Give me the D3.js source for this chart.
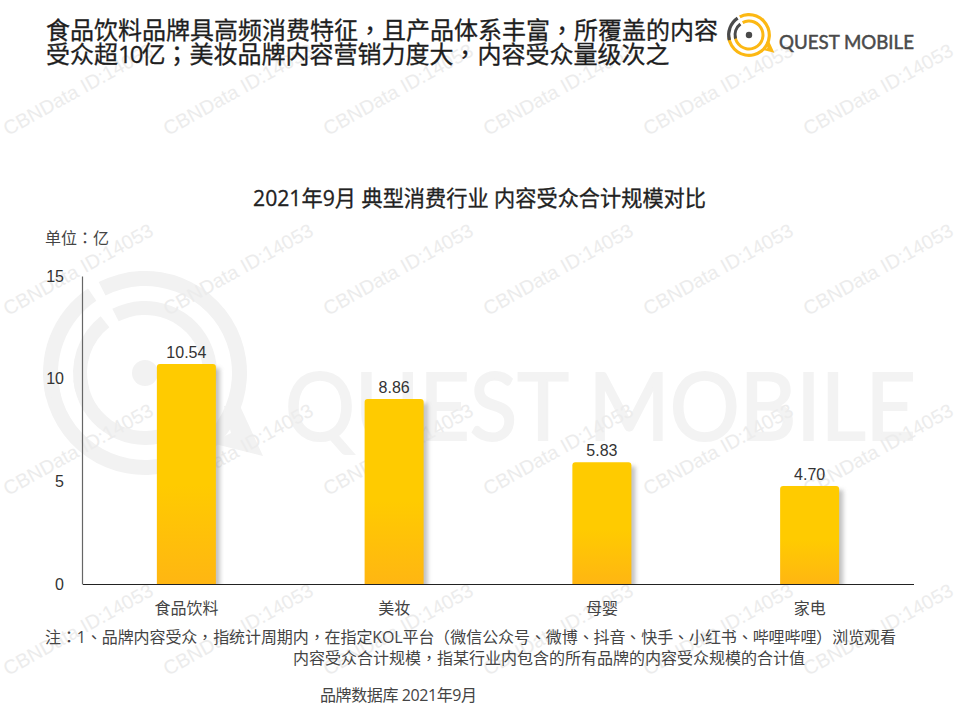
<!DOCTYPE html>
<html><head><meta charset="utf-8">
<script src="https://cdn.jsdelivr.net/npm/d3@7"></script>
<style>
@font-face{font-family:'CenterPunct';src:local('Noto Sans CJK TC'),local('Noto Sans CJK TC Regular'),local('NotoSansCJKtc-Regular');unicode-range:U+FF0C,U+FF1A,U+FF1B,U+FF08,U+FF09,U+3001}
html,body{margin:0;padding:0;background:#fff;overflow:hidden}svg{display:block}</style>
</head><body><svg id="c" width="959" height="719"></svg>
<script>
const categories = ["食品饮料","美妆","母婴","家电"];
const audience = [10.54,8.86,5.83,4.70];
const valueLabels = ["10.54","8.86","5.83","4.70"];
const yTicks = [0,5,10,15];
const headline = ["食品饮料品牌具高频消费特征，且产品体系丰富，所覆盖的内容","受众超10亿；美妆品牌内容营销力度大，内容受众量级次之"];
const chartTitle = "2021年9月 典型消费行业 内容受众合计规模对比";
const unitLabel = "单位：亿";
const notes = ["注：1、品牌内容受众，指统计周期内，在指定KOL平台（微信公众号、微博、抖音、快手、小红书、哔哩哔哩）浏览观看","内容受众合计规模，指某行业内包含的所有品牌的内容受众规模的合计值","品牌数据库 2021年9月"];
const watermarkText = "CBNData ID:14053";
const brandText = "QUEST MOBILE";

const CJK = "'CenterPunct','Open Sans','Noto Sans CJK SC','Noto Sans',sans-serif";
const LAT = "'Liberation Sans',Arial,sans-serif";
const svg = d3.select("#c");
const defs = svg.append("defs");
const g = defs.append("linearGradient").attr("id","bar").attr("x1",0).attr("x2",0).attr("y1",0).attr("y2",1);
g.append("stop").attr("offset","0.55").attr("stop-color","#ffcb00");
g.append("stop").attr("offset","1").attr("stop-color","#ffb612");
const f = defs.append("filter").attr("id","shadow").attr("x","-30%").attr("y","-10%").attr("width","170%").attr("height","125%");
f.append("feGaussianBlur").attr("stdDeviation",2.2);

function logo(parent,cx,cy,s,main,accent){
  const G = parent.append("g").attr("transform",`translate(${cx},${cy}) scale(${s})`);
  const arc = d3.arc();
  const deg = d=>d*Math.PI/180;
  const seg=(r0,r1,a,b,col)=>G.append("path").attr("fill",col)
     .attr("d",arc({innerRadius:r0,outerRadius:r1,startAngle:deg(a),endAngle:deg(b)}));
  seg(87,102,-27,263,main);
  seg(87,102,-104.5,-34,accent);
  seg(58,72,-27,264,main);
  seg(58,72,-105,-38,accent);
  G.append("circle").attr("r",13).attr("fill",accent);
  G.append("path").attr("fill",main).attr("d","M79,33 L95,33 L118,83 L66,70 L86,60 Z");
  return G;
}

logo(svg,145,373,1,"#f2f2f2","#f2f2f2");
svg.append("text").attr("x",285).attr("y",440).attr("font-family","Lato,sans-serif").attr("font-size",93)
  .attr("fill","#f3f3f3").attr("stroke","#f3f3f3").attr("stroke-width",2)
  .attr("textLength",631).attr("lengthAdjust","spacingAndGlyphs").text(brandText);

const wmCols = d3.range(6), wmRows = d3.range(4);
const wm = svg.append("g");
wmRows.forEach(r=>wmCols.forEach(c=>{
  wm.append("text").attr("transform",`translate(${8+c*160},${136+r*180}) rotate(-29)`)
    .attr("font-family",LAT).attr("font-size",19.6).attr("fill","#ececec").text(watermarkText);
}));

const hl = svg.append("g").selectAll("text").data(headline).join("text")
  .attr("x",46).attr("y",(d,i)=>38.5+i*24.5)
  .attr("font-family",CJK).attr("font-size",24).attr("fill","#1e1e1e")
  .attr("stroke","#1e1e1e").attr("stroke-width",.3);
hl.each(function(d){
  const t=d3.select(this);
  d.split(/(\d+)/).forEach(part=>{
    const s=t.append("tspan").text(part);
    if(/^\d+$/.test(part)) s.attr("letter-spacing","-2px");
  });
});

logo(svg,749,35,0.215,"#fcb813","#4a4a4a").select("circle").attr("r",15);
svg.append("text").attr("x",779).attr("y",49).attr("font-family","Lato,sans-serif").attr("font-size",19.5)
  .attr("fill","#4a4a4a").attr("stroke","#4a4a4a").attr("stroke-width",.5)
  .attr("textLength",135).attr("lengthAdjust","spacingAndGlyphs").text(brandText);

svg.append("text").attr("x",479.5).attr("y",206).attr("text-anchor","middle")
  .attr("font-family",CJK).attr("font-size",21.2).attr("fill","#222")
  .attr("stroke","#222").attr("stroke-width",.3).text(chartTitle);
svg.append("text").attr("x",45).attr("y",244).attr("font-family",CJK).attr("font-size",16).attr("fill","#444").text(unitLabel);

// The source picture draws its bars on a slightly taller scale than its tick labels
const x = d3.scaleBand().domain(categories).range([82.5,913.5]).paddingInner(0.716).paddingOuter(0.358);
const yAxisScale = d3.scaleLinear().domain([0,15]).range([584,276]);
const yBar = d3.scaleLinear().domain([0,15]).range([584,271]);
const rows = categories.map((c,i)=>({c,v:audience[i],l:valueLabels[i]}));
const topRounded=(x0,y0,w,h,r)=>`M${x0},${y0+h}V${y0+r}Q${x0},${y0} ${x0+r},${y0}H${x0+w-r}Q${x0+w},${y0} ${x0+w},${y0+r}V${y0+h}Z`;

defs.append("clipPath").attr("id","plot").append("rect").attr("x",82).attr("y",260).attr("width",840).attr("height",324);
svg.append("g").attr("clip-path","url(#plot)").selectAll("rect").data(rows).join("rect")
  .attr("x",d=>x(d.c)+4).attr("y",d=>yBar(d.v)+4).attr("width",x.bandwidth())
  .attr("height",d=>yBar(0)-yBar(d.v)).attr("fill","#9a9a9a").attr("opacity",.6).attr("filter","url(#shadow)");
svg.append("g").selectAll("path").data(rows).join("path")
  .attr("d",d=>topRounded(x(d.c),yBar(d.v),x.bandwidth(),yBar(0)-yBar(d.v),3)).attr("fill","url(#bar)");

svg.append("g").selectAll("text").data(rows).join("text")
  .attr("x",d=>x(d.c)+x.bandwidth()/2).attr("y",d=>yBar(d.v)-6).attr("text-anchor","middle")
  .attr("font-family",LAT).attr("font-size",16).attr("fill","#333").text(d=>d.l);

const ay = svg.append("g").attr("transform","translate(82,0)").call(d3.axisLeft(yAxisScale).tickValues(yTicks).tickSize(0).tickPadding(18));
ay.select(".domain").attr("stroke","#666").attr("stroke-width",1.2);
ay.selectAll("text").attr("font-family",LAT).attr("font-size",16).attr("fill","#333");
const ax = svg.append("g").attr("transform","translate(0,584)").call(d3.axisBottom(x).tickSize(0).tickPadding(19));
ax.select(".domain").attr("stroke","#222").attr("stroke-width",1.2);
ax.selectAll("text").attr("font-family",CJK).attr("font-size",16).attr("fill","#444");

const noteX=[45,293,320], noteY=[643,664,701], noteW=[851,512,157];
svg.append("g").selectAll("text").data(notes).join("text")
  .attr("x",(d,i)=>noteX[i]).attr("y",(d,i)=>noteY[i]).attr("textLength",(d,i)=>noteW[i]).attr("lengthAdjust","spacing")
  .attr("font-family",CJK).attr("font-size",16).attr("fill","#444").text(d=>d);
</script></body></html>
